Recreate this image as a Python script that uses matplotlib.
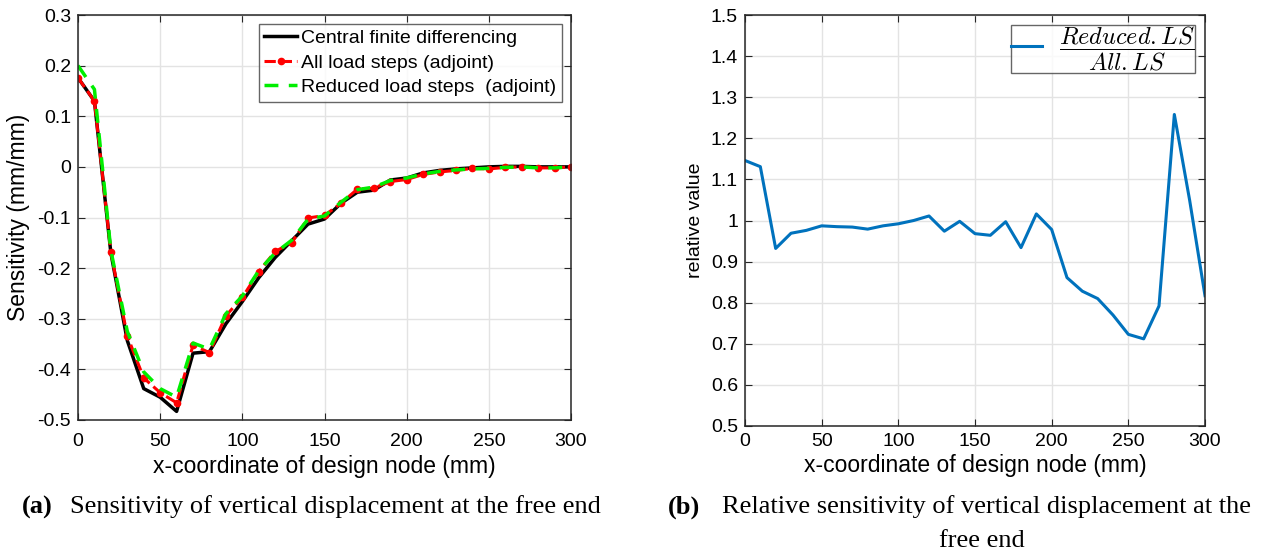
import numpy as np
import matplotlib
matplotlib.use('Agg')
import matplotlib.pyplot as plt

plt.rcParams['font.family'] = ['Liberation Sans', 'DejaVu Sans']
plt.rcParams['mathtext.fontset'] = 'cm'

# x-coordinates of design nodes
x_nodes = np.arange(0, 301, 10)

# sensitivities (mm/mm)
central_fd = [0.176, 0.13, -0.17, -0.343, -0.438, -0.455, -0.483, -0.368, -0.365, -0.31,
              -0.266, -0.219, -0.179, -0.146, -0.113, -0.103, -0.072, -0.05, -0.046, -0.026,
              -0.022, -0.012, -0.007, -0.004, -0.002, 0.0, 0.001, 0.001, 0.0, 0.0, 0.0]
all_ls = [0.176, 0.13, -0.169, -0.334, -0.417, -0.446, -0.466, -0.352, -0.367, -0.294,
          -0.258, -0.207, -0.167, -0.15, -0.101, -0.096, -0.072, -0.044, -0.042, -0.029,
          -0.025, -0.015, -0.01, -0.007, -0.003, -0.004, -0.001, 0.0, -0.002, -0.002, 0.0]
reduced_ls = [0.2, 0.153, -0.165, -0.325, -0.405, -0.438, -0.455, -0.348, -0.36, -0.29,
              -0.255, -0.205, -0.17, -0.145, -0.103, -0.097, -0.07, -0.045, -0.04, -0.027,
              -0.022, -0.014, -0.009, -0.006, -0.004, -0.003, -0.001, 0.0, -0.002, -0.002, 0.0]

# relative value Reduced.LS / All.LS
relative = [1.146, 1.131, 0.932, 0.969, 0.976, 0.987, 0.985, 0.984, 0.979, 0.987,
            0.992, 1.0, 1.011, 0.974, 0.998, 0.968, 0.964, 0.997, 0.934, 1.016,
            0.978, 0.861, 0.828, 0.810, 0.770, 0.723, 0.712, 0.792, 1.258, 1.049, 0.817]

fig = plt.figure(figsize=(12.64, 5.58), dpi=100)
W, H = 1264, 558

def style_axes(ax, xpad):
    ax.grid(True, color='#e3e3e3', linewidth=1)
    ax.set_axisbelow(True)
    ax.tick_params(direction='in', top=True, right=True, labelsize=14, length=5,
                   color='#262626')
    ax.tick_params(axis='x', pad=xpad)
    ax.tick_params(axis='y', pad=5)
    for s in ax.spines.values():
        s.set_color('#262626')
        s.set_linewidth(1.1)

# (a) sensitivity
ax1 = fig.add_axes([78 / W, 1 - 420 / H, (571 - 78) / W, (420 - 15) / H])
ax1.plot(x_nodes, central_fd, color='black', lw=2.5, label='Central finite differencing')
ax1.plot(x_nodes, all_ls, color='red', lw=2.2, ls='--', marker='o', ms=4.5,
         label='All load steps (adjoint)')
ax1.plot(x_nodes, reduced_ls, color='#00ee00', lw=2.5, ls=(0, (4, 3)),
         label='Reduced load steps  (adjoint)')
ax1.set_xlim(0, 300)
ax1.set_ylim(-0.5, 0.3)
ax1.set_xticks(np.arange(0, 301, 50))
ax1.set_yticks(np.arange(-0.5, 0.31, 0.1))
ax1.set_yticklabels(['-0.5', '-0.4', '-0.3', '-0.2', '-0.1', '0', '0.1', '0.2', '0.3'])
style_axes(ax1, 9)
ax1.set_xlabel('x-coordinate of design node (mm)', fontsize=16.5, labelpad=4)
ax1.set_ylabel('Sensitivity (mm/mm)', fontsize=16.5, labelpad=5)
leg1 = ax1.legend(loc='upper right', fontsize=14, frameon=True, fancybox=False,
                  edgecolor='#404040', borderpad=0.3, handlelength=1.7, labelspacing=0.35,
                  handletextpad=0.2, borderaxespad=0.45)
leg1.get_frame().set_linewidth(1.0)

# (b) relative sensitivity
ax2 = fig.add_axes([745 / W, 1 - 426 / H, (1205 - 745) / W, (426 - 15) / H])
ax2.plot(x_nodes, relative, color='#0072bd', lw=2.2,
         label=r'$\dfrac{Reduced.LS}{All.LS}$')
ax2.set_xlim(0, 300)
ax2.set_ylim(0.5, 1.5)
ax2.set_xticks(np.arange(0, 301, 50))
ax2.set_yticks(np.arange(0.5, 1.51, 0.1))
ax2.set_yticklabels(['0.5', '0.6', '0.7', '0.8', '0.9', '1', '1.1', '1.2', '1.3', '1.4', '1.5'])
style_axes(ax2, 5)
ax2.set_xlabel('x-coordinate of design node (mm)', fontsize=16.5, labelpad=3)
ax2.set_ylabel('relative value', fontsize=14, labelpad=5)
leg2 = ax2.legend(loc='upper right', fontsize=17.5, frameon=True, fancybox=False,
                  edgecolor='#404040', borderpad=0.0, handlelength=1.3,
                  handletextpad=0.7, borderaxespad=0.4)
leg2.get_frame().set_linewidth(1.0)

# captions
cap = dict(fontsize=19, family=['Liberation Serif', 'DejaVu Serif'], va='center')
fig.text(22 / W, 1 - 507 / H, '(a)', fontweight='bold', ha='left', **cap)
fig.text(70 / W, 1 - 507 / H, 'Sensitivity of vertical displacement at the free end',
         ha='left', **cap)
fig.text(668 / W, 1 - 507 / H, '(b)', fontweight='bold', ha='left', **cap)
fig.text(722 / W, 1 - 507 / H, 'Relative sensitivity of vertical displacement at the',
         ha='left', **cap)
fig.text(982 / W, 1 - 541 / H, 'free end', ha='center', **cap)

fig.savefig('out.png', dpi=100)
